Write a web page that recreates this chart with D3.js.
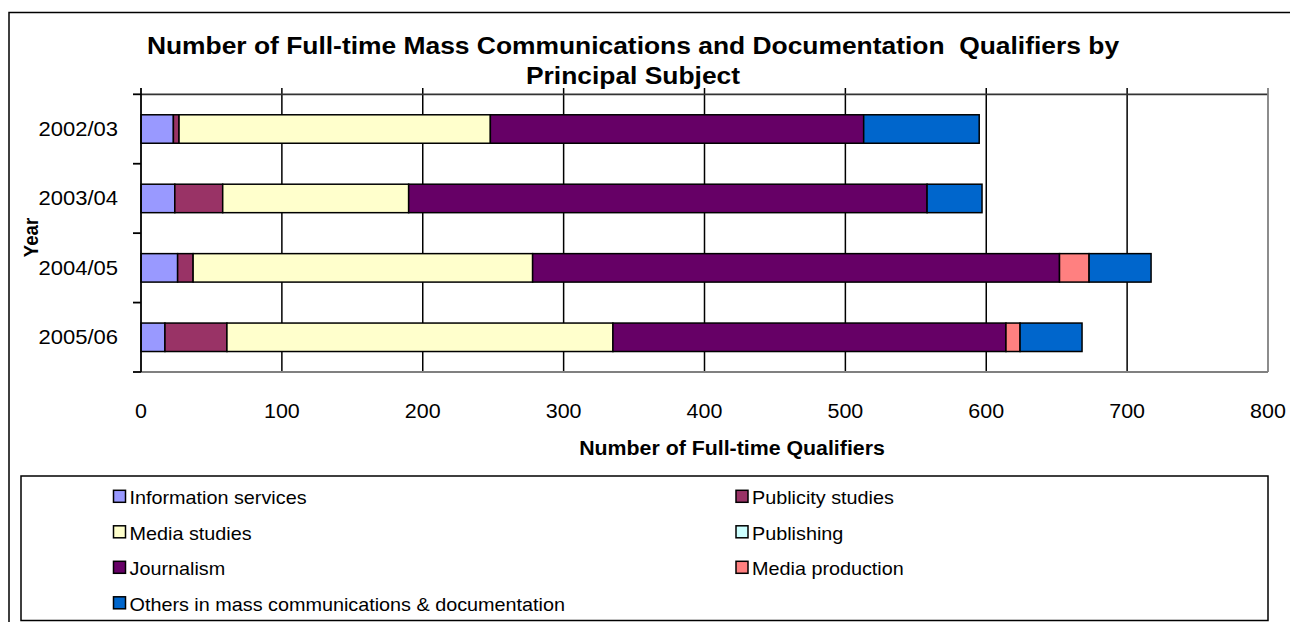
<!DOCTYPE html>
<html><head><meta charset="utf-8">
<script src="https://cdn.jsdelivr.net/npm/d3@7"></script>
<style>body{margin:0;background:#fff}svg{display:block}text{font-family:"Liberation Sans",Arial,sans-serif;fill:#000}</style>
</head><body><svg id="c" width="1290" height="622"></svg>
<script>
const years = ["2002/03","2003/04","2004/05","2005/06"];
const subjects = ["Information services","Publicity studies","Media studies","Publishing","Journalism","Media production","Others in mass communications & documentation"];
const infoServices = [23,24,26,17];
const publicity = [4,34,11,44];
const mediaStudies = [221,132,241,274];
const publishing = [0,0,0,0];
const journalism = [265,368,374,279];
const mediaProduction = [0,0,21,10];
const others = [82,39,44,44];
const xTicks = [0,100,200,300,400,500,600,700,800];
const colors = ["#9999FF","#993366","#FFFFCC","#CCFFFF","#660066","#FF8080","#0066CC"];
const titleLines = ["Number of Full-time Mass Communications and Documentation  Qualifiers by","Principal Subject"];
const xTitle = "Number of Full-time Qualifiers";
const yTitle = "Year";

const seriesVals = [infoServices,publicity,mediaStudies,publishing,journalism,mediaProduction,others];
const rows = years.map((y,i)=>{const r={year:y}; subjects.forEach((s,j)=>r[s]=seriesVals[j][i]); return r;});
const stack = d3.stack().keys(subjects)(rows);

const svg = d3.select("#c");
const SX = 1.1;
function stext(x,y,t,size,opts={}){
  const g = svg.append("text").attr("transform",`translate(${x},${y}) ${opts.rot?`rotate(${opts.rot}) `:''}scale(${opts.rot?1:SX},${opts.rot?SX:1})`)
    .attr("font-size",size).attr("text-anchor",opts.anchor||"start").attr("font-weight",opts.bold?"bold":"normal")
    .style("white-space","pre").text(t);
  return g;
}

// outer border
svg.append("rect").attr("x",9).attr("y",12.5).attr("width",1300).attr("height",640).attr("fill","none").attr("stroke","#000").attr("stroke-width",1.5);

const L=141, R=1268, T=94.3, B=372;
const x = d3.scaleLinear().domain([0,800]).range([L,R]);
const y = d3.scaleBand().domain(years).range([T,B]).paddingInner(0.59).paddingOuter(0.295);
const yB = d3.scaleBand().domain(years).range([T,B]);

// gridlines
svg.append("g").selectAll("line").data(xTicks.filter(d=>d>0&&d<800)).join("line")
  .attr("x1",d=>x(d)).attr("x2",d=>x(d)).attr("y1",88).attr("y2",B).attr("stroke","#000").attr("stroke-width",1.5);
// plot border
svg.append("line").attr("x1",L).attr("x2",R).attr("y1",T).attr("y2",T).attr("stroke","#333").attr("stroke-width",1.8);
svg.append("line").attr("x1",R).attr("x2",R).attr("y1",88).attr("y2",B).attr("stroke","#808080").attr("stroke-width",1.8);
svg.append("line").attr("x1",L).attr("x2",R).attr("y1",B).attr("y2",B).attr("stroke","#808080").attr("stroke-width",1.8);

// bars
svg.append("g").selectAll("g").data(stack).join("g").attr("fill",(d,i)=>colors[i])
  .selectAll("rect").data(d=>d.filter(p=>p[1]-p[0]>0)).join("rect")
  .attr("x",d=>x(d[0])).attr("width",d=>x(d[1])-x(d[0]))
  .attr("y",d=>y(d.data.year)).attr("height",y.bandwidth())
  .attr("stroke","#000").attr("stroke-width",1.5);

// y axis
svg.append("line").attr("x1",L).attr("x2",L).attr("y1",88).attr("y2",B).attr("stroke","#000").attr("stroke-width",1.8);
const bounds = years.map(d=>yB(d)).concat([B]);
svg.append("g").selectAll("line").data(bounds).join("line")
  .attr("x1",133).attr("x2",L).attr("y1",d=>d).attr("y2",d=>d).attr("stroke","#000").attr("stroke-width",1.8);
years.forEach(yr=>stext(118, yB(yr)+yB.bandwidth()/2+7, yr, 20, {anchor:"end"}));
xTicks.forEach(t=>stext(x(t), 418, String(t), 19.5, {anchor:"middle"}));

// titles
stext(633, 54, titleLines[0], 24, {anchor:"middle",bold:true});
stext(633, 84, titleLines[1], 24, {anchor:"middle",bold:true});
stext(732, 455, xTitle, 19.4, {anchor:"middle",bold:true});
stext(37.5, 237.5, yTitle, 18.6, {anchor:"middle",bold:true,rot:-90});

// legend
svg.append("rect").attr("x",21).attr("y",476).attr("width",1247).attr("height",144.5).attr("fill","#fff").attr("stroke","#000").attr("stroke-width",1.5);
subjects.forEach((s,i)=>{
  const col=i%2, row=Math.floor(i/2);
  const sx = col===0?113.5:736, ty = 504.3 + row*35.5;
  svg.append("rect").attr("x",sx).attr("y",ty-14).attr("width",12).attr("height",12)
    .attr("fill",colors[i]).attr("stroke","#000").attr("stroke-width",1.5);
  stext(sx+16, ty, s, 18, {});
});
</script></body></html>
